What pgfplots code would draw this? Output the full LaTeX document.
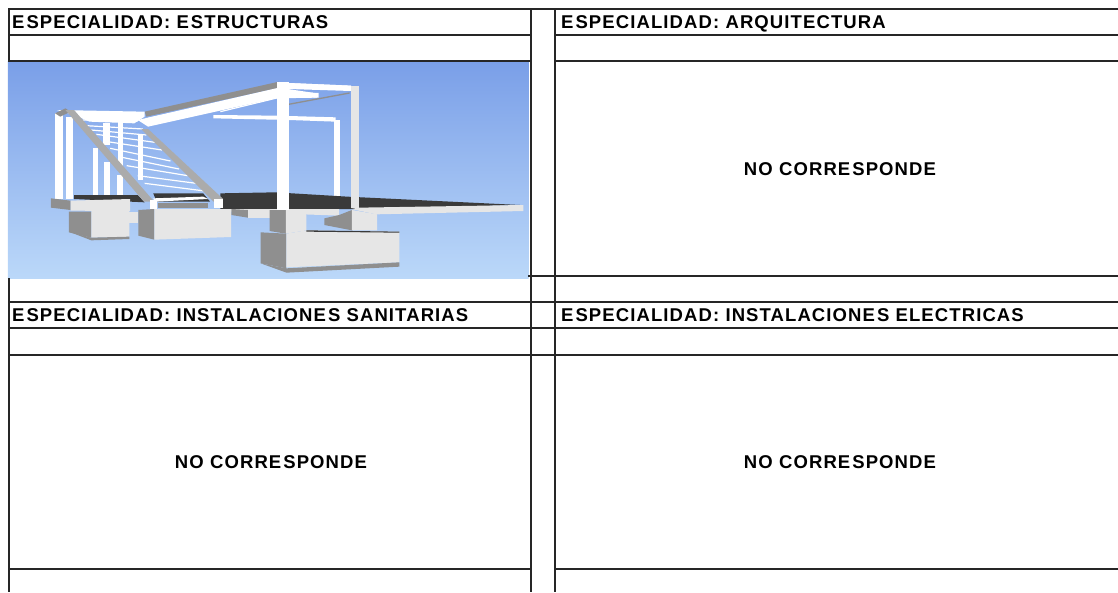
\documentclass[border=0pt]{standalone}
\usepackage{pgfplots}
\pgfplotsset{compat=1.18}
\usepackage{fontspec}
\setmainfont{Liberation Sans}
\definecolor{sky1}{HTML}{7A9FE8}
\definecolor{sky2}{HTML}{BBD8F9}
\definecolor{midg}{HTML}{8F8F8F}
\definecolor{lite}{HTML}{E6E6E6}
\definecolor{darkg}{HTML}{3A3A3A}
\definecolor{strg}{HTML}{ABABAB}
\newcommand{\poly}[2]{\addplot[fill=#1,draw=none,forget plot] coordinates {#2} -- cycle;}
\newcommand{\seg}[1]{\addplot[black!85,line width=1.3pt,forget plot] coordinates {#1};}
\newcommand{\tread}[1]{\addplot[white,line width=1.2pt,forget plot] coordinates {#1};}
\newcommand{\txtfont}{\bfseries\fontsize{18.5}{20}\selectfont\addfontfeature{LetterSpace=6}}
\newcommand{\head}[2]{\node[anchor=base west,inner sep=0pt,font=\txtfont,text=black] at (axis cs:#1) {#2};}
\newcommand{\nc}[1]{\node[anchor=base,inner sep=0pt,font=\txtfont,text=black] at (axis cs:#1) {NO CORRE\kern2pt SPONDE};}
\pgfplotsset{base/.style={scale only axis,width=1118pt,height=592pt,y dir=reverse,axis lines=none,clip=true,at={(0,0)},anchor=south west}}
\begin{document}
\begin{tikzpicture}
\useasboundingbox (0,0) rectangle (1118pt,592pt);
% picture drawn in the units of the enlarged crop
\begin{axis}[base,xmin=0,xmax=3246.7,ymin=-165,ymax=1611]
\addplot[draw=none,top color=sky1,bottom color=sky2,forget plot] coordinates {(23,21)(1535,21)(1535,669)(23,669)} -- cycle;
% rear columns
\poly{white}{(970,195)(988,195)(988,422)(970,422)}
\poly{white}{(270,280)(286,280)(286,425)(270,425)}
\poly{white}{(302,320)(320,320)(320,428)(302,428)}
\poly{white}{(340,360)(358,360)(358,430)(340,430)}
\poly{white}{(160,175)(182,175)(182,432)(160,432)}
\poly{white}{(192,185)(212,185)(212,432)(192,432)}
% rear beam
\poly{white}{(620,180)(805,182)(975,187)(975,200)(840,195)(620,190)}
% slab
\poly{darkg}{(640,415)(800,412)(1010,425)(1510,450)(1040,462)(640,462)}
\poly{darkg}{(215,420)(400,420)(420,442)(215,432)}
\poly{lite}{(1520,450)(1520,468)(1092,478)(1020,462)(1040,458)}
\poly{lite}{(670,462)(985,462)(985,482)(670,470)}
% left cap
\poly{midg}{(148,430)(205,437)(205,465)(148,458)}
\poly{lite}{(205,437)(378,432)(378,468)(205,467)}
% stems
\poly{midg}{(672,462)(720,465)(720,488)(672,480)}
\poly{lite}{(720,470)(785,470)(785,488)(720,488)}
\poly{midg}{(783,465)(830,465)(830,536)(783,528)}
\poly{lite}{(830,465)(890,465)(890,526)(830,536)}
\poly{midg}{(942,490)(985,480)(1022,465)(1022,526)(942,510)}
\poly{lite}{(1022,465)(1095,478)(1095,526)(1022,526)}
% left blocks
\poly{midg}{(200,470)(265,470)(265,548)(200,532)}
\poly{lite}{(265,467)(376,467)(376,545)(265,548)}
\poly{midg}{(200,530)(265,548)(376,545)(376,552)(265,556)}
\poly{lite}{(376,470)(402,470)(402,505)(376,505)}
\poly{midg}{(402,465)(448,462)(448,554)(402,542)}
\poly{lite}{(448,462)(671,462)(671,546)(448,554)}
% front block
\poly{midg}{(757,532)(832,536)(832,640)(757,625)}
\poly{lite}{(832,536)(890,526)(1160,530)(1160,622)(832,637)}
\poly{midg}{(757,625)(832,640)(1160,622)(1160,635)(832,653)}
\poly{darkg}{(890,526)(1160,530)(1160,533)(890,530)}
% upper flight
\poly{midg}{(420,170)(810,80)(812,98)(425,185)}
\poly{white}{(400,195)(810,98)(920,115)(920,128)(800,130)(430,215)}
\tread{(430,190)(800,110)}
\tread{(640,170)(820,125)}
\poly{white}{(838,84)(1020,92)(1020,108)(838,102)}
\poly{midg}{(838,146)(1015,112)(1015,116)(838,150)}
\poly{white}{(838,110)(925,114)(925,128)(838,125)}
% landing
\poly{white}{(165,165)(420,170)(420,185)(390,205)(260,200)(215,180)}
\poly{midg}{(160,175)(190,160)(205,170)(175,185)}
% treads
\tread{(240,195)(400,198)}
\tread{(250,212)(415,222)}
\tread{(265,225)(425,240)}
\tread{(280,238)(450,262)}
\tread{(300,258)(470,285)}
\tread{(320,280)(495,318)}
\tread{(345,305)(520,342)}
\tread{(368,332)(545,362)}
\tread{(400,362)(570,385)}
\tread{(420,385)(595,408)}
\poly{white}{(342,200)(357,200)(357,340)(342,340)}
\poly{white}{(400,240)(415,240)(415,375)(400,375)}
\poly{white}{(300,205)(318,205)(318,270)(300,270)}
% stringers
\poly{strg}{(410,222)(430,222)(648,432)(620,440)}
\poly{strg}{(190,165)(215,165)(448,440)(418,440)}
\poly{darkg}{(445,415)(590,415)(610,440)(455,440)}
\poly{white}{(445,430)(590,425)(605,432)(450,440)}
\poly{midg}{(458,445)(605,445)(605,460)(458,460)}
\poly{white}{(435,436)(455,436)(455,462)(435,462)}
\poly{white}{(622,432)(648,432)(648,460)(622,460)}
% front columns
\poly{white}{(805,80)(838,80)(838,465)(805,465)}
\poly{white}{(838,84)(1020,92)(1020,106)(838,100)}
\poly{lite}{(1018,92)(1043,92)(1043,460)(1018,460)}
\end{axis}
\begin{axis}[base,xmin=0,xmax=1118,ymin=0,ymax=592]
\seg{(8,9)(1118,9)}
\seg{(9,35)(531,35)}
\seg{(555,35)(1118,35)}
\seg{(9,61)(531,61)}
\seg{(555,61)(1118,61)}
\seg{(528,276)(1118,276)}
\seg{(9,302)(1118,302)}
\seg{(9,328)(1118,328)}
\seg{(9,355)(1118,355)}
\seg{(9,569)(531,569)}
\seg{(555,569)(1118,569)}
\seg{(9,8)(9,62)}
\seg{(9,278)(9,592)}
\seg{(531,9)(531,592)}
\seg{(555,9)(555,592)}
\head{12,28}{E\kern2pt SPECIALIDAD: E\kern2pt STRUCTURAS}
\head{561,28}{E\kern2pt SPECIALIDAD: ARQUITECTURA}
\head{12,321}{E\kern2pt SPECIALIDAD: IN\kern1pt STALACIONE\kern2pt S SANITARIAS}
\head{561,321}{E\kern2pt SPECIALIDAD: IN\kern1pt STALACIONE\kern2pt S ELECTRICAS}
\nc{840,175}
\nc{271,468}
\nc{840,468}
\end{axis}
\end{tikzpicture}
\end{document}
